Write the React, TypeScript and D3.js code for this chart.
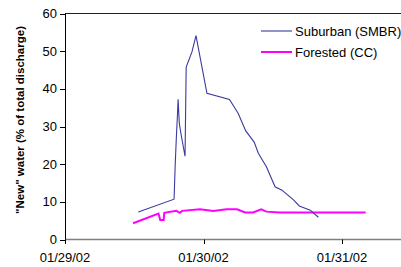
import React from 'react'
import * as d3 from 'd3'

// hours after 01/29/02 00:00 and "new" water percentages
const suburbanHours = [12.7, 18.9, 19.1, 19.3, 19.5, 19.6, 19.8, 20.1, 20.8, 21.0, 22.0, 22.7, 24.6, 28.5, 30.0, 31.3, 32.8, 33.5, 34.9, 36.4, 37.6, 39.6, 40.6, 42.5, 43.9]
const suburbanValues = [7.3, 10.7, 20, 27.3, 33.5, 37.2, 31, 28, 22.1, 45.8, 49.8, 54.1, 38.8, 37.2, 33.5, 28.9, 25.8, 22.9, 19.3, 14.0, 13.1, 10.5, 8.9, 7.8, 5.9]

const forestedHours = [11.8, 16.2, 16.5, 17.1, 17.2, 19.3, 19.9, 20.3, 23.4, 25.7, 28.0, 29.8, 31.2, 32.6, 34.0, 34.9, 37.2, 52.1]
const forestedValues = [4.3, 6.9, 5.2, 5.2, 7.1, 7.6, 7.1, 7.6, 8.0, 7.6, 8.0, 8.0, 7.2, 7.2, 8.0, 7.4, 7.2, 7.2]

const yTicks = [0, 10, 20, 30, 40, 50, 60]
const xTickLabels = ['01/29/02', '01/30/02', '01/31/02']
const seriesNames = ['Suburban (SMBR)', 'Forested (CC)']

const W = 401
const H = 267
const start = new Date(2002, 0, 29)
const toDate = (h: number) => new Date(start.getTime() + h * 3600 * 1000)

const App: React.FC = () => {
  const x = d3.scaleTime([new Date(2002, 0, 29), new Date(2002, 0, 31)], [65, 342])
  const y = d3.scaleLinear([0, 60], [239.5, 13.5])
  const xTicks = [0, 1, 2].map((d) => new Date(2002, 0, 29 + d))

  const line = d3.line<[number, number]>()
    .x((d) => x(toDate(d[0])))
    .y((d) => y(d[1]))

  const suburban = suburbanHours.map((h, i) => [h, suburbanValues[i]] as [number, number])
  const forested = forestedHours.map((h, i) => [h, forestedValues[i]] as [number, number])
  const font = 'Arial, "Liberation Sans", sans-serif'
  const blue = '#3a3a9e'

  return (
    <svg width={W} height={H} style={{ position: 'absolute', left: 0, top: 0 }} fontFamily={font}>
      <rect width={W} height={H} fill="#fff" />
      {/* frame top + axes */}
      <line x1={65} x2={W} y1={13.5} y2={13.5} stroke="#222" />
      <line x1={65} x2={W} y1={239.5} y2={239.5} stroke="#808080" strokeWidth={1.5} />
      <line x1={65.5} x2={65.5} y1={13.5} y2={239.5} stroke="#000" />
      {yTicks.map((t) => (
        <g key={t}>
          <line x1={60} x2={65} y1={Math.round(y(t)) + 0.5} y2={Math.round(y(t)) + 0.5} stroke="#000" />
          <text x={57} y={y(t) + 4.5} fontSize={13} textAnchor="end" fill="#000">{t}</text>
        </g>
      ))}
      {xTicks.map((t, i) => (
        <g key={i}>
          <line x1={Math.round(x(t)) + 0.5} x2={Math.round(x(t)) + 0.5} y1={239.5} y2={244} stroke="#000" />
          <text x={x(t)} y={262} fontSize={13} textAnchor="middle" fill="#000">{xTickLabels[i]}</text>
        </g>
      ))}
      <text transform={`translate(24,120) rotate(-90)`} fontSize={11.5} fontWeight="bold" textAnchor="middle" fill="#000">
        "New" water (%  of total discharge)
      </text>

      <path d={line(forested) ?? ''} fill="none" stroke="#ff00ff" strokeWidth={2} />
      <path d={line(suburban) ?? ''} fill="none" stroke={blue} strokeWidth={1.1} />

      {/* legend */}
      <line x1={261} x2={292} y1={31} y2={31} stroke={blue} strokeWidth={1.1} />
      <text x={295} y={35.5} fontSize={13} fill="#000">{seriesNames[0]}</text>
      <line x1={261} x2={292} y1={52} y2={52} stroke="#ff00ff" strokeWidth={2} />
      <text x={295} y={56.5} fontSize={13} fill="#000">{seriesNames[1]}</text>
    </svg>
  )
}

export default App
